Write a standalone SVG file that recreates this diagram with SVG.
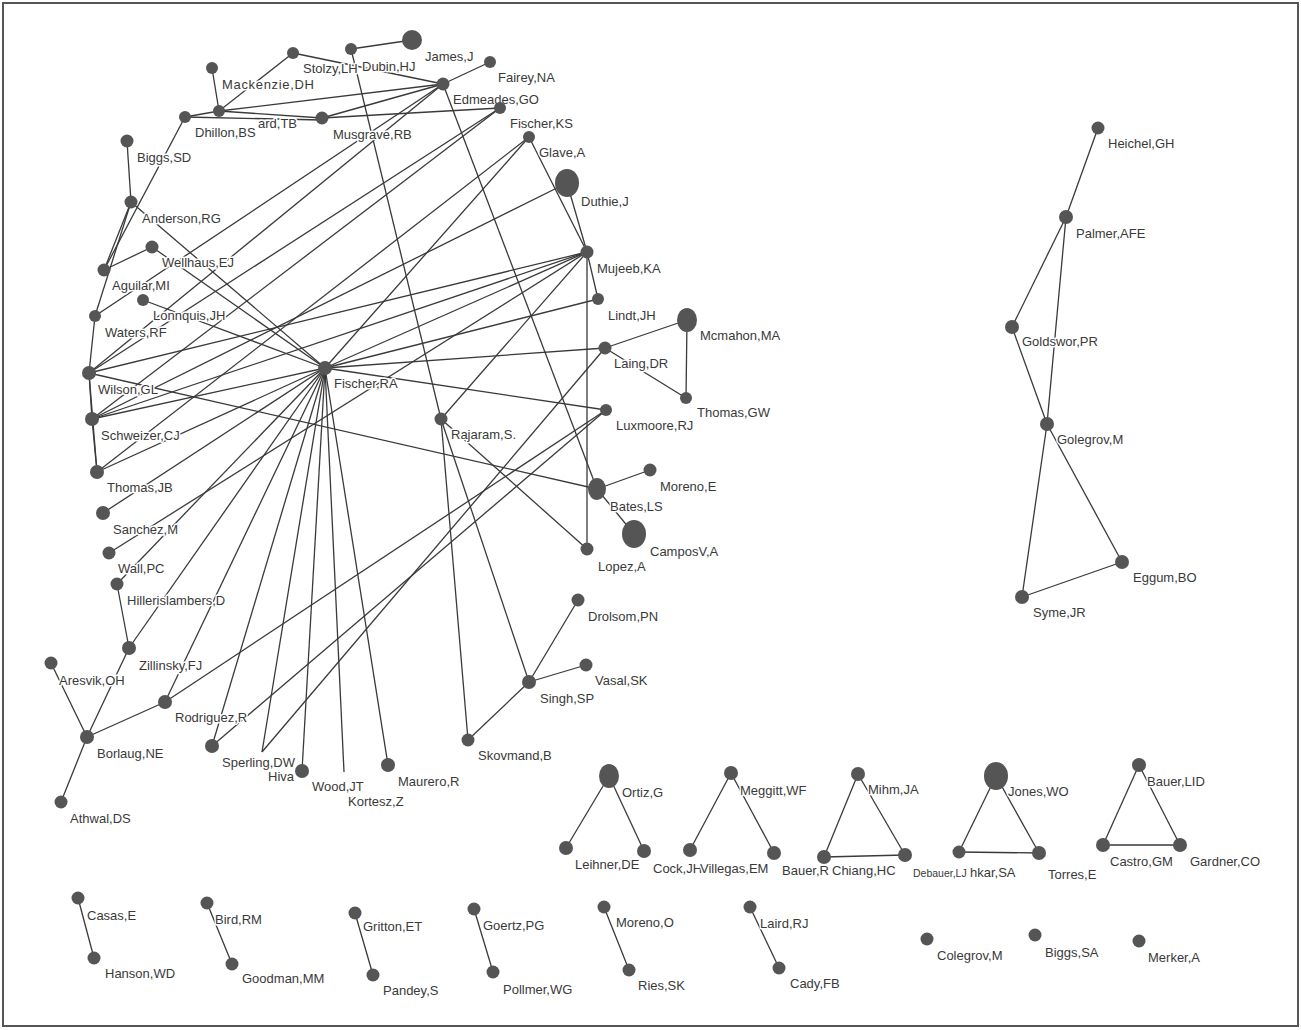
<svg xmlns="http://www.w3.org/2000/svg" width="1301" height="1030" viewBox="0 0 1301 1030">
<style>
.e{stroke:#3a3a3a;stroke-width:1.3;fill:none}
.n{fill:#555}
.t{font-family:"Liberation Sans",Arial,sans-serif;font-size:13px;fill:#3a3a3a;stroke:#fff;stroke-width:3;paint-order:stroke;stroke-linejoin:round}
</style>
<rect x="0" y="0" width="1301" height="1030" fill="#fff"/>
<rect x="3" y="3" width="1295" height="1023" fill="none" stroke="#555" stroke-width="2"/>
<g id="connectors">
<line class="e" x1="293" y1="53" x2="219" y2="111"/>
<line class="e" x1="212" y1="68" x2="219" y2="111"/>
<line class="e" x1="185" y1="117" x2="219" y2="111"/>
<line class="e" x1="219" y1="111" x2="443" y2="84"/>
<line class="e" x1="219" y1="111" x2="322" y2="118"/>
<line class="e" x1="185" y1="117" x2="322" y2="120"/>
<line class="e" x1="322" y1="118" x2="443" y2="84"/>
<line class="e" x1="322" y1="118" x2="500" y2="108"/>
<line class="e" x1="351" y1="49" x2="412" y2="40"/>
<line class="e" x1="293" y1="53" x2="443" y2="84"/>
<line class="e" x1="443" y1="84" x2="490" y2="62"/>
<line class="e" x1="351" y1="49" x2="441" y2="419"/>
<line class="e" x1="443" y1="84" x2="597" y2="489"/>
<line class="e" x1="95" y1="316" x2="443" y2="84"/>
<line class="e" x1="89" y1="373" x2="443" y2="84"/>
<line class="e" x1="89" y1="373" x2="500" y2="108"/>
<line class="e" x1="92" y1="419" x2="500" y2="108"/>
<line class="e" x1="97" y1="472" x2="529" y2="137"/>
<line class="e" x1="92" y1="419" x2="567" y2="183"/>
<line class="e" x1="529" y1="137" x2="325" y2="368"/>
<line class="e" x1="185" y1="117" x2="104" y2="270"/>
<line class="e" x1="127" y1="141" x2="131" y2="202"/>
<line class="e" x1="131" y1="202" x2="104" y2="270"/>
<line class="e" x1="104" y1="270" x2="152" y2="247"/>
<line class="e" x1="131" y1="202" x2="95" y2="316"/>
<line class="e" x1="95" y1="316" x2="89" y2="373"/>
<line class="e" x1="89" y1="373" x2="92" y2="419"/>
<line class="e" x1="92" y1="419" x2="97" y2="472"/>
<line class="e" x1="89" y1="373" x2="97" y2="472"/>
<line class="e" x1="89" y1="373" x2="597" y2="489"/>
<line class="e" x1="325" y1="368" x2="131" y2="202"/>
<line class="e" x1="325" y1="368" x2="152" y2="247"/>
<line class="e" x1="325" y1="368" x2="143" y2="300"/>
<line class="e" x1="325" y1="368" x2="92" y2="419"/>
<line class="e" x1="325" y1="368" x2="97" y2="472"/>
<line class="e" x1="325" y1="368" x2="103" y2="513"/>
<line class="e" x1="325" y1="368" x2="117" y2="584"/>
<line class="e" x1="325" y1="368" x2="129" y2="648"/>
<line class="e" x1="325" y1="368" x2="165" y2="702"/>
<line class="e" x1="325" y1="368" x2="212" y2="746"/>
<line class="e" x1="325" y1="368" x2="262" y2="752"/>
<line class="e" x1="325" y1="368" x2="302" y2="771"/>
<line class="e" x1="325" y1="368" x2="344" y2="772"/>
<line class="e" x1="325" y1="368" x2="388" y2="765"/>
<line class="e" x1="325" y1="368" x2="598" y2="299"/>
<line class="e" x1="325" y1="368" x2="587" y2="252"/>
<line class="e" x1="325" y1="368" x2="605" y2="348"/>
<line class="e" x1="325" y1="368" x2="606" y2="410"/>
<line class="e" x1="92" y1="419" x2="587" y2="252"/>
<line class="e" x1="89" y1="373" x2="587" y2="252"/>
<line class="e" x1="109" y1="553" x2="587" y2="252"/>
<line class="e" x1="529" y1="137" x2="587" y2="252"/>
<line class="e" x1="567" y1="183" x2="587" y2="252"/>
<line class="e" x1="587" y1="252" x2="598" y2="299"/>
<line class="e" x1="587" y1="252" x2="587" y2="549"/>
<line class="e" x1="441" y1="419" x2="587" y2="252"/>
<line class="e" x1="441" y1="419" x2="529" y2="682"/>
<line class="e" x1="441" y1="419" x2="468" y2="740"/>
<line class="e" x1="441" y1="419" x2="587" y2="549"/>
<line class="e" x1="597" y1="489" x2="650" y2="470"/>
<line class="e" x1="597" y1="489" x2="634" y2="534"/>
<line class="e" x1="605" y1="348" x2="687" y2="320"/>
<line class="e" x1="687" y1="320" x2="686" y2="398"/>
<line class="e" x1="605" y1="348" x2="686" y2="398"/>
<line class="e" x1="529" y1="682" x2="578" y2="600"/>
<line class="e" x1="529" y1="682" x2="586" y2="665"/>
<line class="e" x1="529" y1="682" x2="468" y2="740"/>
<line class="e" x1="117" y1="584" x2="129" y2="648"/>
<line class="e" x1="51" y1="663" x2="87" y2="737"/>
<line class="e" x1="129" y1="648" x2="87" y2="737"/>
<line class="e" x1="87" y1="737" x2="61" y2="802"/>
<line class="e" x1="87" y1="737" x2="165" y2="702"/>
<line class="e" x1="165" y1="702" x2="606" y2="410"/>
<line class="e" x1="212" y1="746" x2="606" y2="410"/>
<line class="e" x1="262" y1="752" x2="605" y2="348"/>
<line class="e" x1="1098" y1="128" x2="1066" y2="217"/>
<line class="e" x1="1066" y1="217" x2="1012" y2="327"/>
<line class="e" x1="1066" y1="217" x2="1047" y2="424"/>
<line class="e" x1="1012" y1="327" x2="1047" y2="424"/>
<line class="e" x1="1047" y1="424" x2="1022" y2="597"/>
<line class="e" x1="1047" y1="424" x2="1122" y2="562"/>
<line class="e" x1="1022" y1="597" x2="1122" y2="562"/>
<line class="e" x1="609" y1="776" x2="566" y2="848"/>
<line class="e" x1="609" y1="776" x2="644" y2="851"/>
<line class="e" x1="731" y1="773" x2="690" y2="850"/>
<line class="e" x1="731" y1="773" x2="774" y2="853"/>
<line class="e" x1="858" y1="774" x2="824" y2="857"/>
<line class="e" x1="858" y1="774" x2="905" y2="855"/>
<line class="e" x1="824" y1="857" x2="905" y2="855"/>
<line class="e" x1="996" y1="776" x2="959" y2="852"/>
<line class="e" x1="996" y1="776" x2="1039" y2="853"/>
<line class="e" x1="959" y1="852" x2="1039" y2="853"/>
<line class="e" x1="1139" y1="765" x2="1103" y2="845"/>
<line class="e" x1="1139" y1="765" x2="1180" y2="845"/>
<line class="e" x1="1103" y1="845" x2="1180" y2="845"/>
<line class="e" x1="78" y1="898" x2="94" y2="958"/>
<line class="e" x1="207" y1="903" x2="232" y2="964"/>
<line class="e" x1="355" y1="913" x2="373" y2="975"/>
<line class="e" x1="474" y1="909" x2="493" y2="972"/>
<line class="e" x1="604" y1="907" x2="629" y2="970"/>
<line class="e" x1="750" y1="907" x2="779" y2="968"/>
</g>
<g id="nodes">
<g id="stolzy"><circle class="n" cx="293" cy="53" r="6"/><text class="t" x="303" y="73">Stolzy,LH</text></g>
<g id="dubin"><circle class="n" cx="351" cy="49" r="6"/><text class="t" x="362" y="71">Dubin,HJ</text></g>
<g id="james"><circle class="n" cx="412" cy="40" r="10"/><text class="t" x="425" y="61">James,J</text></g>
<g id="fairey"><circle class="n" cx="490" cy="62" r="6"/><text class="t" x="498" y="82">Fairey,NA</text></g>
<g id="edmeades"><circle class="n" cx="443" cy="84" r="6.5"/><text class="t" x="453" y="104">Edmeades,GO</text></g>
<g id="mackenzie"><circle class="n" cx="212" cy="68" r="6"/><text class="t" x="222" y="89" textLength="92">Mackenzie,DH</text></g>
<g id="hayward"><circle class="n" cx="219" cy="111" r="6"/><text class="t" x="258" y="128">ard,TB</text></g>
<g id="dhillon"><circle class="n" cx="185" cy="117" r="6"/><text class="t" x="195" y="137">Dhillon,BS</text></g>
<g id="musgrave"><circle class="n" cx="322" cy="118" r="6.5"/><text class="t" x="333" y="139">Musgrave,RB</text></g>
<g id="fischerks"><circle class="n" cx="500" cy="108" r="6"/><text class="t" x="510" y="128">Fischer,KS</text></g>
<g id="glave"><circle class="n" cx="529" cy="137" r="6"/><text class="t" x="539" y="157">Glave,A</text></g>
<g id="duthie"><ellipse class="n" cx="567" cy="183" rx="12" ry="14"/><text class="t" x="581" y="206">Duthie,J</text></g>
<g id="mujeeb"><circle class="n" cx="587" cy="252" r="6.5"/><text class="t" x="597" y="273">Mujeeb,KA</text></g>
<g id="lindt"><circle class="n" cx="598" cy="299" r="6"/><text class="t" x="608" y="320">Lindt,JH</text></g>
<g id="mcmahon"><ellipse class="n" cx="687" cy="320" rx="10" ry="12"/><text class="t" x="700" y="340">Mcmahon,MA</text></g>
<g id="laing"><circle class="n" cx="605" cy="348" r="6.5"/><text class="t" x="614" y="368">Laing,DR</text></g>
<g id="thomasgw"><circle class="n" cx="686" cy="398" r="6"/><text class="t" x="697" y="417">Thomas,GW</text></g>
<g id="luxmoore"><circle class="n" cx="606" cy="410" r="6"/><text class="t" x="616" y="430">Luxmoore,RJ</text></g>
<g id="morenoe"><circle class="n" cx="650" cy="470" r="6.5"/><text class="t" x="660" y="491">Moreno,E</text></g>
<g id="bates"><ellipse class="n" cx="597" cy="489" rx="9" ry="11"/><text class="t" x="610" y="511">Bates,LS</text></g>
<g id="campos"><ellipse class="n" cx="634" cy="534" rx="12" ry="14"/><text class="t" x="650" y="556">CamposV,A</text></g>
<g id="lopez"><circle class="n" cx="587" cy="549" r="6.5"/><text class="t" x="598" y="571">Lopez,A</text></g>
<g id="rajaram"><circle class="n" cx="441" cy="419" r="6.5"/><text class="t" x="451" y="439">Rajaram,S.</text></g>
<g id="fischerra"><circle class="n" cx="325" cy="368" r="7"/><text class="t" x="334" y="388">Fischer,RA</text></g>
<g id="drolsom"><circle class="n" cx="578" cy="600" r="6.5"/><text class="t" x="588" y="621">Drolsom,PN</text></g>
<g id="vasal"><circle class="n" cx="586" cy="665" r="6.5"/><text class="t" x="595" y="685">Vasal,SK</text></g>
<g id="singh"><circle class="n" cx="529" cy="682" r="7"/><text class="t" x="540" y="703">Singh,SP</text></g>
<g id="skovmand"><circle class="n" cx="468" cy="740" r="6.5"/><text class="t" x="478" y="760">Skovmand,B</text></g>
<g id="biggssd"><circle class="n" cx="127" cy="141" r="6.5"/><text class="t" x="137" y="162">Biggs,SD</text></g>
<g id="anderson"><circle class="n" cx="131" cy="202" r="6.5"/><text class="t" x="142" y="223">Anderson,RG</text></g>
<g id="wellhaus"><circle class="n" cx="152" cy="247" r="6.5"/><text class="t" x="162" y="267">Wellhaus,EJ</text></g>
<g id="aguilar"><circle class="n" cx="104" cy="270" r="6.5"/><text class="t" x="112" y="290">Aguilar,MI</text></g>
<g id="lonnquis"><circle class="n" cx="143" cy="300" r="6"/><text class="t" x="153" y="320">Lonnquis,JH</text></g>
<g id="waters"><circle class="n" cx="95" cy="316" r="6"/><text class="t" x="105" y="337">Waters,RF</text></g>
<g id="wilson"><circle class="n" cx="89" cy="373" r="7"/><text class="t" x="98" y="394">Wilson,GL</text></g>
<g id="schweizer"><circle class="n" cx="92" cy="419" r="7"/><text class="t" x="101" y="440">Schweizer,CJ</text></g>
<g id="thomasjb"><circle class="n" cx="97" cy="472" r="7"/><text class="t" x="107" y="492">Thomas,JB</text></g>
<g id="sanchez"><circle class="n" cx="103" cy="513" r="7"/><text class="t" x="113" y="534">Sanchez,M</text></g>
<g id="wall"><circle class="n" cx="109" cy="553" r="6.5"/><text class="t" x="118" y="573">Wall,PC</text></g>
<g id="hiller"><circle class="n" cx="117" cy="584" r="6.5"/><text class="t" x="127" y="605">Hillerislambers,D</text></g>
<g id="zillinsky"><circle class="n" cx="129" cy="648" r="7"/><text class="t" x="139" y="670">Zillinsky,FJ</text></g>
<g id="aresvik"><circle class="n" cx="51" cy="663" r="6.5"/><text class="t" x="59" y="685">Aresvik,OH</text></g>
<g id="borlaug"><circle class="n" cx="87" cy="737" r="7"/><text class="t" x="97" y="758">Borlaug,NE</text></g>
<g id="athwal"><circle class="n" cx="61" cy="802" r="6.5"/><text class="t" x="70" y="823">Athwal,DS</text></g>
<g id="rodriguez"><circle class="n" cx="165" cy="702" r="7"/><text class="t" x="175" y="722">Rodriguez,R</text></g>
<g id="sperling"><circle class="n" cx="212" cy="746" r="7"/><text class="t" x="222" y="767">Sperling,DW</text></g>
<g id="hiva"><text class="t" x="268" y="781">Hiva</text></g>
<g id="kortesz"><text class="t" x="348" y="806">Kortesz,Z</text></g>
<g id="wood"><circle class="n" cx="302" cy="771" r="7"/><text class="t" x="312" y="791">Wood,JT</text></g>
<g id="maurero"><circle class="n" cx="388" cy="765" r="7"/><text class="t" x="398" y="786">Maurero,R</text></g>
<g id="heichel"><circle class="n" cx="1098" cy="128" r="6.5"/><text class="t" x="1108" y="148">Heichel,GH</text></g>
<g id="palmer"><circle class="n" cx="1066" cy="217" r="7"/><text class="t" x="1076" y="238">Palmer,AFE</text></g>
<g id="goldswor"><circle class="n" cx="1012" cy="327" r="7"/><text class="t" x="1022" y="346">Goldswor,PR</text></g>
<g id="golegrov"><circle class="n" cx="1047" cy="424" r="7"/><text class="t" x="1057" y="444">Golegrov,M</text></g>
<g id="eggum"><circle class="n" cx="1122" cy="562" r="7"/><text class="t" x="1133" y="582">Eggum,BO</text></g>
<g id="syme"><circle class="n" cx="1022" cy="597" r="7"/><text class="t" x="1033" y="617">Syme,JR</text></g>
<g id="ortiz"><ellipse class="n" cx="609" cy="776" rx="10" ry="12"/><text class="t" x="622" y="797">Ortiz,G</text></g>
<g id="leihner"><circle class="n" cx="566" cy="848" r="7"/><text class="t" x="575" y="869">Leihner,DE</text></g>
<g id="cock"><circle class="n" cx="644" cy="851" r="7"/><text class="t" x="653" y="873">Cock,JH</text></g>
<g id="meggitt"><circle class="n" cx="731" cy="773" r="7"/><text class="t" x="740" y="795">Meggitt,WF</text></g>
<g id="villegas"><circle class="n" cx="690" cy="850" r="7"/><text class="t" x="700" y="873">Villegas,EM</text></g>
<g id="bauerr"><circle class="n" cx="774" cy="853" r="7"/><text class="t" x="782" y="875">Bauer,R</text></g>
<g id="mihm"><circle class="n" cx="858" cy="774" r="7"/><text class="t" x="868" y="794">Mihm,JA</text></g>
<g id="chiang"><circle class="n" cx="824" cy="857" r="7"/><text class="t" x="832" y="875">Chiang,HC</text></g>
<g id="debauer"><circle class="n" cx="905" cy="855" r="7"/><text class="t" x="913" y="877" style="font-size:10.5px">Debauer,LJ</text></g>
<g id="shekhar"><circle class="n" cx="959" cy="852" r="6.5"/><text class="t" x="970" y="877">hkar,SA</text></g>
<g id="jones"><ellipse class="n" cx="996" cy="776" rx="12" ry="14"/><text class="t" x="1008" y="796">Jones,WO</text></g>
<g id="torres"><circle class="n" cx="1039" cy="853" r="7"/><text class="t" x="1048" y="879">Torres,E</text></g>
<g id="bauerlid"><circle class="n" cx="1139" cy="765" r="7"/><text class="t" x="1147" y="786">Bauer,LID</text></g>
<g id="castro"><circle class="n" cx="1103" cy="845" r="7"/><text class="t" x="1110" y="866">Castro,GM</text></g>
<g id="gardner"><circle class="n" cx="1180" cy="845" r="7"/><text class="t" x="1190" y="866">Gardner,CO</text></g>
<g id="casas"><circle class="n" cx="78" cy="898" r="6.5"/><text class="t" x="87" y="920">Casas,E</text></g>
<g id="hanson"><circle class="n" cx="94" cy="958" r="6.5"/><text class="t" x="105" y="978">Hanson,WD</text></g>
<g id="bird"><circle class="n" cx="207" cy="903" r="6.5"/><text class="t" x="215" y="924">Bird,RM</text></g>
<g id="goodman"><circle class="n" cx="232" cy="964" r="6.5"/><text class="t" x="242" y="983">Goodman,MM</text></g>
<g id="gritton"><circle class="n" cx="355" cy="913" r="6.5"/><text class="t" x="363" y="931">Gritton,ET</text></g>
<g id="pandey"><circle class="n" cx="373" cy="975" r="6.5"/><text class="t" x="383" y="995">Pandey,S</text></g>
<g id="goertz"><circle class="n" cx="474" cy="909" r="6.5"/><text class="t" x="483" y="930">Goertz,PG</text></g>
<g id="pollmer"><circle class="n" cx="493" cy="972" r="6.5"/><text class="t" x="503" y="994">Pollmer,WG</text></g>
<g id="morenoo"><circle class="n" cx="604" cy="907" r="6.5"/><text class="t" x="616" y="927">Moreno,O</text></g>
<g id="ries"><circle class="n" cx="629" cy="970" r="6.5"/><text class="t" x="638" y="990">Ries,SK</text></g>
<g id="laird"><circle class="n" cx="750" cy="907" r="6.5"/><text class="t" x="760" y="928">Laird,RJ</text></g>
<g id="cady"><circle class="n" cx="779" cy="968" r="6.5"/><text class="t" x="790" y="988">Cady,FB</text></g>
<g id="colegrov"><circle class="n" cx="927" cy="939" r="6.5"/><text class="t" x="937" y="960">Colegrov,M</text></g>
<g id="biggssa"><circle class="n" cx="1035" cy="935" r="6.5"/><text class="t" x="1045" y="957">Biggs,SA</text></g>
<g id="merker"><circle class="n" cx="1139" cy="941" r="6.5"/><text class="t" x="1148" y="962">Merker,A</text></g>
</g>
</svg>
